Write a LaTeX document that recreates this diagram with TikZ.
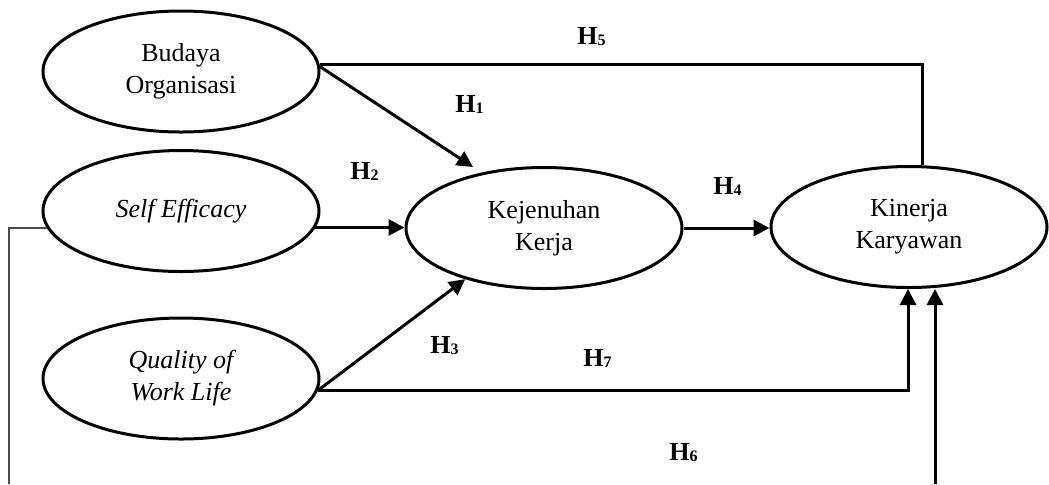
\documentclass[tikz,border=0pt]{standalone}
\usepackage{fontspec}
\setmainfont{Liberation Serif}
\usetikzlibrary{shapes.geometric,arrows.meta,calc}

% hypothesis label: bold H with a small lowered index
\newcommand{\hyp}[1]{\textbf{H\raisebox{-0.6pt}{\fontsize{8}{8}\selectfont\bfseries #1}}}

\tikzset{
  construct/.style={draw, ellipse, line width=1.5pt, minimum width=138pt,
    minimum height=60.5pt, inner sep=0pt, align=center,
    font=\fontsize{13}{16}\selectfont},
  link/.style={line width=1.5pt},
  arr/.style={link, -{Triangle[length=8pt,width=8pt]}},
  side/.style={line width=1pt, draw=black!70},
  hlabel/.style={anchor=base west, inner sep=0pt, font=\fontsize{13}{16}\selectfont}
}

\begin{document}
\begin{tikzpicture}[x=0.5pt, y=-0.5pt]
  \useasboundingbox (0,0) rectangle (1049,484);

  % latent constructs
  \node[construct] (bud) at (181,71.5) {Budaya\\Organisasi};
  \node[construct] (se)  at (181,211) {\itshape Self Efficacy};
  \node[construct] (qwl) at (181,378.5) {\itshape Quality of\\\itshape Work Life};
  \node[construct] (kej) at (544,228) {Kejenuhan\\Kerja};
  \node[construct] (kin) at (909,227) {Kinerja\\Karyawan};

  % bend points of the routed paths
  \coordinate (h5c) at (922,63);
  \coordinate (h7c) at (908,391);
  \coordinate (h6l) at (9,484);
  \coordinate (h6r) at (935,484);

  % H5: Budaya Organisasi -> Kinerja Karyawan
  \draw[link] (bud.3.5) -- (bud.3.5 -| h5c) -- (h5c |- kin.north);
  % H1: Budaya Organisasi -> Kejenuhan Kerja
  \draw[arr] (bud.2) -- ($(kej.center)+(-71,-61)$);
  % H2: Self Efficacy -> Kejenuhan Kerja
  \draw[arr] (se.-7.25) -- (se.-7.25 -| kej.west);
  % H3: Quality of Work Life -> Kejenuhan Kerja
  \draw[arr] (qwl.-5.25) -- (kej.213.4);
  % H7: Quality of Work Life -> Kinerja Karyawan
  \draw[arr] (qwl.-5.25) -- (qwl.-5.25 -| h7c) -- (h7c |- kin.south);
  % H4: Kejenuhan Kerja -> Kinerja Karyawan
  \draw[arr] (kej.east) -- (kej.east -| kin.west);
  % H6: Self Efficacy -> Kinerja Karyawan (routed below)
  \draw[side] (se.187.25) -- (se.187.25 -| h6l) -- (h6l);
  \draw[arr] (h6r) -- (h6r |- kin.south);

  % hypothesis labels
  \node[hlabel] (l5) at (577,44)  {\hyp{5}};
  \node[hlabel] (l1) at (455,112) {\hyp{1}};
  \node[hlabel] (l2) at (350,179) {\hyp{2}};
  \node[hlabel] (l4) at (713,194) {\hyp{4}};
  \node[hlabel] (l3) at (430,353) {\hyp{3}};
  \node[hlabel] (l7) at (583,366) {\hyp{7}};
  \node[hlabel] (l6) at (669,460) {\hyp{6}};
\end{tikzpicture}
\end{document}
